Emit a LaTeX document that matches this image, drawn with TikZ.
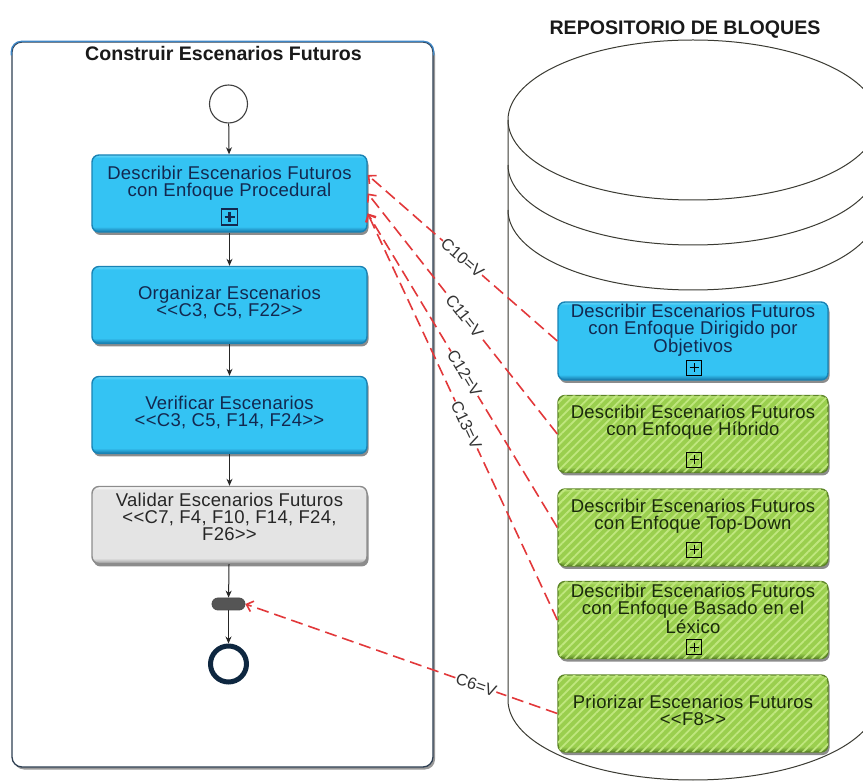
\documentclass[tikz,border=0pt]{standalone}
\usepackage{fontspec}
\setmainfont{Liberation Sans}
\newfontfamily\boxfont[LetterSpace=1.5]{Liberation Sans}
\usetikzlibrary{arrows.meta,shadows,patterns.meta}

\definecolor{taskblue}{HTML}{34C3F3}
\definecolor{taskbluedark}{HTML}{1677A8}
\definecolor{taskbluelight}{HTML}{6AD6F8}
\definecolor{taskblueedge}{HTML}{1883B5}
\definecolor{tasktext}{HTML}{13284F}
\definecolor{taskgray}{HTML}{E4E4E4}
\definecolor{taskgraydark}{HTML}{9C9C9C}
\definecolor{taskgrayedge}{HTML}{8C8C8C}
\definecolor{taskgreen}{HTML}{9ACF4E}
\definecolor{taskgreendark}{HTML}{5E8C28}
\definecolor{stripegreen}{HTML}{C0E77F}
\definecolor{greenedge}{HTML}{5C8526}
\definecolor{greentext}{HTML}{1A2A0C}
\definecolor{linkred}{HTML}{E2383A}
\definecolor{poolline}{HTML}{2E3F52}
\definecolor{pooltop}{HTML}{3D86C6}
\definecolor{cylline}{HTML}{3A3A32}
\definecolor{endnavy}{HTML}{0E2740}
\definecolor{gatefill}{HTML}{555555}

% bevelled fills: darker strip along the bottom edge, light rim on top
\pgfdeclareverticalshading{bluebevel}{100bp}{color(0bp)=(taskbluedark); color(25bp)=(taskbluedark);
  color(28.5bp)=(taskblue); color(73bp)=(taskblue); color(75bp)=(taskbluelight); color(100bp)=(taskbluelight)}
\pgfdeclareverticalshading{graybevel}{100bp}{color(0bp)=(taskgraydark); color(25bp)=(taskgraydark);
  color(28.5bp)=(taskgray); color(73bp)=(taskgray); color(75bp)=(white); color(100bp)=(white)}
\pgfdeclareverticalshading{greenbevel}{100bp}{color(0bp)=(taskgreendark); color(25bp)=(taskgreendark);
  color(28.5bp)=(taskgreen); color(73bp)=(taskgreen); color(75bp)=(stripegreen); color(100bp)=(stripegreen)}

\begin{document}
\begin{tikzpicture}[x=1pt,y=-1pt,
  boxshadow/.style={drop shadow={shadow xshift=1.5pt,shadow yshift=-3pt,fill=black,opacity=0.45}},
  taskbox/.style={rounded corners=7pt,inner sep=0pt,line width=1.4pt,boxshadow},
  bluetask/.style={taskbox,minimum width=275pt,minimum height=77pt,shading=bluebevel,draw=taskblueedge},
  graytask/.style={taskbox,minimum width=275pt,minimum height=77pt,shading=graybevel,draw=taskgrayedge},
  bluerepo/.style={taskbox,minimum width=270pt,minimum height=78pt,shading=bluebevel,draw=taskblueedge},
  greenrepo/.style={taskbox,minimum width=270pt,minimum height=77pt,shading=greenbevel,draw=greenedge,
    postaction={pattern={Lines[angle=45,distance=6pt,line width=1.8pt]},pattern color=stripegreen}},
  tasktxt/.style={font=\boxfont\fontsize{18.5}{17}\selectfont,align=center,inner sep=0pt,text=tasktext},
  greentxt/.style={tasktxt,text=greentext},
  graytxt/.style={tasktxt,text=black!85},
  plusmark/.style={draw=black,line width=1pt,minimum size=15pt,inner sep=0pt,
    path picture={\draw[line width=1pt]
      ([yshift=-3pt]path picture bounding box.north) -- ([yshift=3pt]path picture bounding box.south)
      ([xshift=3pt]path picture bounding box.west) -- ([xshift=-3pt]path picture bounding box.east);}},
  plusblue/.style={draw=tasktext,fill=taskblue,line width=1.3pt,minimum size=16pt,inner sep=0pt,
    path picture={\draw[line width=2.2pt,tasktext]
      ([yshift=-3pt]path picture bounding box.north) -- ([yshift=3pt]path picture bounding box.south)
      ([xshift=3pt]path picture bounding box.west) -- ([xshift=-3pt]path picture bounding box.east);}},
  flow/.style={-{Stealth[length=7pt,width=6pt]},line width=1pt,draw=black!85},
  link/.style={draw=linkred,line width=1.6pt,dash pattern=on 12pt off 6pt,
    -{Straight Barb[length=6pt,width=11pt,line width=1.6pt]}},
  lab/.style={sloped,fill=white,inner sep=0.4pt,font=\fontsize{16.5}{16}\selectfont,text=black!80},
  titletxt/.style={font=\bfseries\fontsize{19.6}{20}\selectfont,text=black!90,inner sep=0pt}
]
\useasboundingbox (0,0) rectangle (863,783);

% process pool
\node[draw=poolline,line width=1.3pt,fill=white,rounded corners=10pt,
      minimum width=421pt,minimum height=725pt,inner sep=0pt,
      drop shadow={shadow xshift=2pt,shadow yshift=-2.5pt,fill=black,opacity=0.4}]
      (pool) at (222.5,404.5) {};
\draw[pooltop,line width=1.3pt,rounded corners=10pt]
  ([yshift=-14pt]pool.north west) -- (pool.north west) -- (pool.north east) -- ([yshift=-14pt]pool.north east);
\node[titletxt] (pooltitle) at (223.5,53) {Construir Escenarios Futuros};

% block repository cylinder
\begin{scope}
  \clip (0,0) rectangle (863,783);
  \draw[cylline,line width=1pt] (693,120) ellipse [x radius=185,y radius=80];
  \draw[cylline,line width=1pt] (508,165) arc[start angle=180,end angle=0,x radius=185,y radius=80];
  \draw[cylline,line width=1pt] (508,210) arc[start angle=180,end angle=0,x radius=185,y radius=80];
  \draw[cylline,line width=1pt] (508,120) -- (508,700)
     arc[start angle=180,end angle=0,x radius=185,y radius=80] -- (878,120);
\end{scope}
\node[titletxt] (repotitle) at (685,30) {REPOSITORIO DE BLOQUES};

% process flow
\node[circle,draw=black!75,line width=1.1pt,fill=white,minimum size=38pt,inner sep=0pt] (start) at (228.5,104) {};

\node[bluetask] (t1) at (229.5,193.5) {};
\node[tasktxt] (t1txt) at (229.5,183) {Describir Escenarios Futuros\\con Enfoque Procedural};
\node[plusblue] (t1plus) at (229.5,217) {};

\node[bluetask] (t2) at (229.5,305) {};
\node[tasktxt] (t2txt) at (229.5,302) {Organizar Escenarios\\<{}<C3, C5, F22>{}>};

\node[bluetask] (t3) at (229.5,415) {};
\node[tasktxt] (t3txt) at (229.5,412) {Verificar Escenarios\\<{}<C3, C5, F14, F24>{}>};

\node[graytask] (t4) at (229.5,525) {};
\node[graytxt] (t4txt) at (229.5,517) {Validar Escenarios Futuros\\<{}<C7, F4, F10, F14, F24,\\F26>{}>};

\node[rounded corners=6pt,fill=gatefill,draw=black!70,line width=0.8pt,
      minimum width=33pt,minimum height=12pt,inner sep=0pt] (gw) at (228.5,604) {};

\node[circle,draw=endnavy,line width=5pt,fill=white,minimum size=36pt,inner sep=0pt] (end) at (228.5,664) {};

\draw[flow] (start) -- (t1);
\draw[flow] (t1) -- (t2);
\draw[flow] (t2) -- (t3);
\draw[flow] (t3) -- (t4);
\draw[flow] (t4) -- (gw);
\draw[flow] (gw) -- (end);

% repository blocks
\node[bluerepo] (r1) at (693,341) {};
\node[tasktxt] (r1txt) at (693,330) {Describir Escenarios Futuros\\con Enfoque Dirigido por\\Objetivos};
\node[plusmark] (r1plus) at (694,368) {};

\node[greenrepo] (r2) at (693,434) {};
\node[greentxt] (r2txt) at (693,422) {Describir Escenarios Futuros\\con Enfoque Híbrido};
\node[plusmark] (r2plus) at (694,460) {};

\node[greenrepo] (r3) at (693,527.5) {};
\node[greentxt] (r3txt) at (693,516) {Describir Escenarios Futuros\\con Enfoque Top-Down};
\node[plusmark] (r3plus) at (694,550) {};

\node[greenrepo] (r4) at (693,620) {};
\node[greentxt] (r4txt) at (693,609) {Describir Escenarios Futuros\\con Enfoque Basado en el\\Léxico};
\node[plusmark] (r4plus) at (694,647) {};

\node[greenrepo] (r5) at (693,713.5) {};
\node[greentxt] (r5txt) at (693,710) {Priorizar Escenarios Futuros\\<{}<F8>{}>};

% condition links
\draw[link] (r1.west) -- node[lab,pos=0.5] {C10=V} ([yshift=18.5pt]t1.east);
\draw[link] (r2.west) -- node[lab,pos=0.49] {C11=V} (t1.east);
\draw[link] (r3.west) -- node[lab,pos=0.49] {C12=V} ([yshift=-20pt]t1.east);
\draw[link] (r4.west) -- node[lab,pos=0.48] {C13=V} ([yshift=-20pt]t1.east);
\draw[link] (r5.west) -- node[lab,pos=0.26] {C6=V} (gw.east);

\end{tikzpicture}
\end{document}
